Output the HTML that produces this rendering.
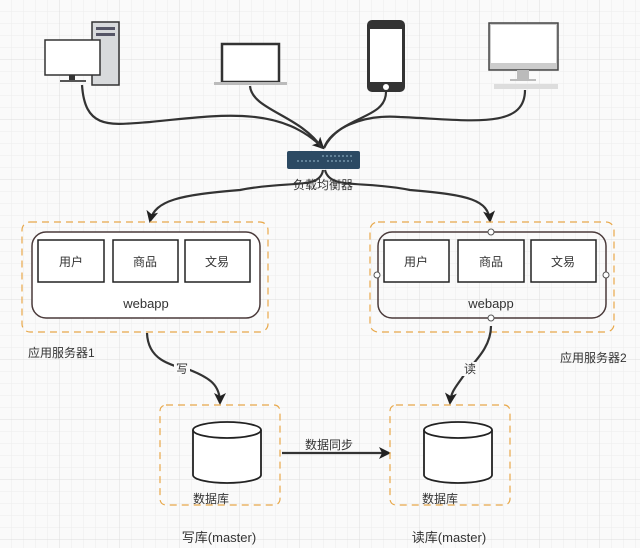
<!DOCTYPE html>
<html><head><meta charset="utf-8"><style>
html,body{margin:0;padding:0;background:#fff}
svg{display:block}
text{font-family:"Liberation Sans","Noto Sans CJK SC",sans-serif;fill:#333}
</style></head><body>
<svg width="640" height="548" viewBox="0 0 640 548" xmlns="http://www.w3.org/2000/svg">
<defs>
<pattern id="g" width="12" height="12" patternUnits="userSpaceOnUse"><path d="M12 0V12H0" fill="none" stroke="#ececec" stroke-width="1"/></pattern>
<pattern id="G" width="60" height="60" patternUnits="userSpaceOnUse"><rect width="60" height="60" fill="url(#g)"/><path d="M60 0V60H0" fill="none" stroke="#dedede" stroke-width="1"/></pattern>
<marker id="a" markerWidth="12" markerHeight="12" refX="10" refY="6" orient="auto" markerUnits="userSpaceOnUse"><path d="M0 0L12 6L0 12L3 6Z" fill="#222"/></marker>
</defs>
<rect width="640" height="548" fill="#fafafa"/>
<rect width="640" height="548" fill="url(#G)"/>

<!-- desktop -->
<rect x="92" y="22" width="27" height="63" fill="#d8dadc" stroke="#333" stroke-width="1.5"/>
<rect x="96" y="27" width="19" height="3" fill="#556"/>
<rect x="96" y="33" width="19" height="3" fill="#556"/>
<rect x="45" y="40" width="55" height="35" fill="#fff" stroke="#333" stroke-width="1.5"/>
<rect x="69" y="75" width="6" height="5" fill="#333"/>
<rect x="60" y="80" width="26" height="2" fill="#555"/>
<!-- laptop -->
<rect x="222" y="44" width="57" height="38" fill="#fff" stroke="#333" stroke-width="2.5"/>
<rect x="214" y="82" width="73" height="3" fill="#bbb"/>
<!-- phone -->
<rect x="367" y="20" width="38" height="72" rx="5" fill="#333"/>
<rect x="370" y="29" width="32" height="53" fill="#fff"/>
<circle cx="386" cy="87" r="3" fill="#fff"/>
<!-- imac -->
<rect x="489" y="23" width="69" height="47" fill="#ccc" stroke="#444" stroke-width="1.5"/>
<rect x="491" y="25" width="65" height="38" fill="#fff"/>
<rect x="517" y="70" width="12" height="9" fill="#bbb"/>
<rect x="510" y="79" width="26" height="2" fill="#bbb"/>
<rect x="494" y="84" width="64" height="5" fill="#ddd"/>

<!-- curves to switch -->
<g fill="none" stroke="#333" stroke-width="2.2">
<path d="M82 85 C85 130 110 125 150 122 C220 115 280 105 323 148" marker-end="url(#a)"/>
<path d="M250 86 C252 110 300 115 322 148"/>
<path d="M386 92 C386 120 340 115 324 148"/>
<path d="M525 90 C525 130 470 120 400 117 C360 114 330 130 324 148"/>
<path d="M323 170 C320 190 290 180 240 190 C180 195 155 200 150 221" marker-end="url(#a)"/>
<path d="M325 170 C330 190 360 180 410 190 C470 195 488 200 490 221" marker-end="url(#a)"/>
</g>
<!-- switch -->
<rect x="287" y="151" width="73" height="18" rx="2" fill="#2c4a63"/>
<path d="M322 156h30M297 161h24M327 161h25" stroke="#9bc" stroke-width="1" stroke-dasharray="2 2"/>
<text x="323" y="189" font-size="12" text-anchor="middle">负载均衡器</text>

<!-- server 1 -->
<rect x="22" y="222" width="246" height="110" rx="8" fill="none" stroke="#e8a84a" stroke-width="1.2" stroke-dasharray="7 5"/>
<rect x="32" y="232" width="228" height="86" rx="14" fill="#fff" stroke="#4a3a3a" stroke-width="1.5"/>
<g fill="#fff" stroke="#222" stroke-width="1.5">
<rect x="38" y="240" width="66" height="42"/><rect x="113" y="240" width="65" height="42"/><rect x="185" y="240" width="65" height="42"/>
<rect x="384" y="240" width="65" height="42"/><rect x="458" y="240" width="66" height="42"/><rect x="531" y="240" width="65" height="42"/>
</g>
<g font-size="12" text-anchor="middle">
<text x="71" y="266">用户</text><text x="145" y="266">商品</text><text x="217" y="266">文易</text>
<text x="416" y="266">用户</text><text x="491" y="266">商品</text><text x="563" y="266">文易</text>
<text x="146" y="308" font-size="13">webapp</text><text x="491" y="308" font-size="13">webapp</text>
</g>
<!-- server 2 -->
<rect x="370" y="222" width="244" height="110" rx="8" fill="none" stroke="#e8a84a" stroke-width="1.2" stroke-dasharray="7 5"/>
<rect x="378" y="232" width="228" height="86" rx="14" fill="none" stroke="#4a3a3a" stroke-width="1.5"/>
<g fill="#fff" stroke="#555"><circle cx="491" cy="232" r="3"/><circle cx="491" cy="318" r="3"/><circle cx="377" cy="275" r="3"/><circle cx="606" cy="275" r="3"/></g>
<text x="28" y="357" font-size="12">应用服务器1</text>
<text x="560" y="362" font-size="12">应用服务器2</text>

<!-- write/read -->
<g fill="none" stroke="#333" stroke-width="2.2">
<path d="M147 333 C148 360 170 365 190 370 C210 378 220 385 220 403" marker-end="url(#a)"/>
<path d="M491 326 C491 350 470 365 462 378 C455 388 451 392 450 403" marker-end="url(#a)"/>
<path d="M282 453 L389 453" marker-end="url(#a)"/>
</g>
<rect x="174" y="362" width="16" height="14" fill="#fafafa"/>
<text x="182" y="373" font-size="12" text-anchor="middle">写</text>
<rect x="462" y="362" width="16" height="14" fill="#fafafa"/>
<text x="470" y="373" font-size="12" text-anchor="middle">读</text>
<text x="329" y="449" font-size="12" text-anchor="middle">数据同步</text>

<!-- DBs -->
<rect x="160" y="405" width="120" height="100" rx="6" fill="none" stroke="#e8a84a" stroke-width="1.2" stroke-dasharray="7 5"/>
<rect x="390" y="405" width="120" height="100" rx="6" fill="none" stroke="#e8a84a" stroke-width="1.2" stroke-dasharray="7 5"/>
<g fill="#fff" stroke="#222" stroke-width="1.8">
<path d="M193 430 V475 A34 8 0 0 0 261 475 V430"/><ellipse cx="227" cy="430" rx="34" ry="8"/>
<path d="M424 430 V475 A34 8 0 0 0 492 475 V430"/><ellipse cx="458" cy="430" rx="34" ry="8"/>
</g>
<text x="193" y="503" font-size="12">数据库</text>
<text x="422" y="503" font-size="12">数据库</text>
<text x="219" y="542" font-size="13" text-anchor="middle">写库(master)</text>
<text x="449" y="542" font-size="13" text-anchor="middle">读库(master)</text>
</svg>
</body></html>
